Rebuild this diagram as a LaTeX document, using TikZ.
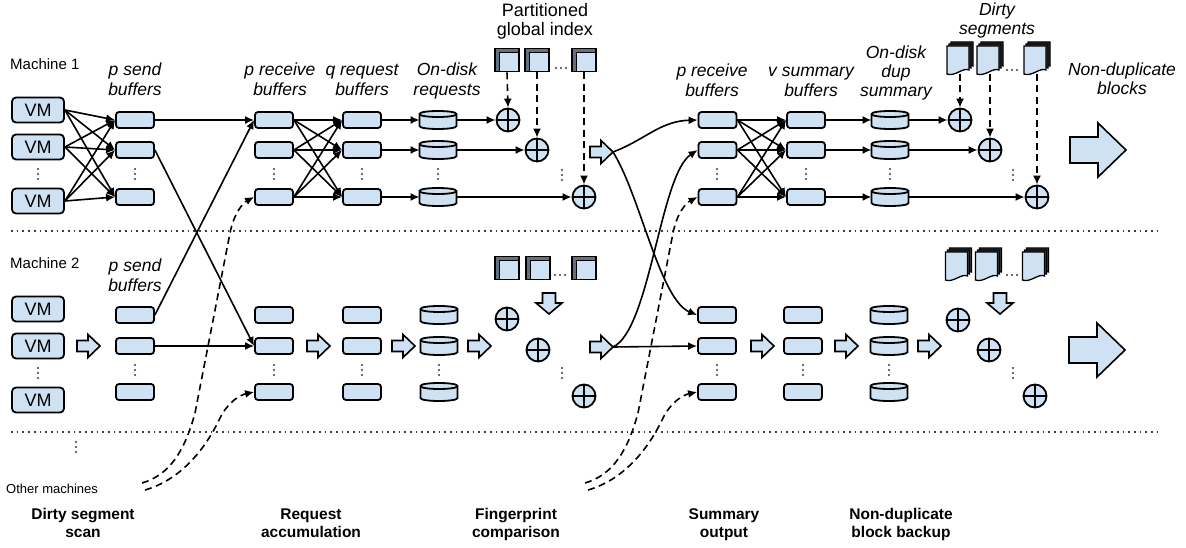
\documentclass[tikz,border=0pt]{standalone}
\usepackage{fontspec}
\setmainfont{Liberation Sans}
\usetikzlibrary{arrows.meta,calc}
\definecolor{lb}{RGB}{207,226,243}
\definecolor{pgray}{RGB}{100,112,124}
\definecolor{dgray}{RGB}{60,66,72}
\definecolor{dotc}{RGB}{60,60,60}
\tikzset{
 bline/.style={line width=1.8pt, draw=black},
 vmbox/.style={bline, fill=lb, rounded corners=4pt, minimum width=52pt, minimum height=25pt, inner sep=0pt, font=\fontsize{18}{18}\selectfont},
 bufbox/.style={bline, fill=lb, rounded corners=3pt, minimum width=38pt, minimum height=16pt, inner sep=0pt},
 cylnode/.style={minimum width=37pt, minimum height=18pt, inner sep=0pt, outer sep=0pt},
 oplus/.style={circle, bline, fill=lb, minimum size=23pt, inner sep=0pt, path picture={\draw[line width=1.6pt] (path picture bounding box.north) -- (path picture bounding box.south) (path picture bounding box.west) -- (path picture bounding box.east);}},
 idxpage/.style={bline, fill=pgray, minimum width=24pt, minimum height=23pt, inner sep=0pt, path picture={\fill[lb] ($(path picture bounding box.north west)+(4,4)$) rectangle (path picture bounding box.south east); \draw[line width=0.7pt] ($(path picture bounding box.north west)+(4,4)$) -- ($(path picture bounding box.north east)+(0,4)$) ($(path picture bounding box.north west)+(4,4)$) -- ($(path picture bounding box.south west)+(4,0)$);}},
 docnode/.style={minimum width=26pt, minimum height=32pt, inner sep=0pt, outer sep=0pt},
 conn/.style={line width=1.6pt, -{Latex[length=9pt,width=8pt]}},
 dconn/.style={conn, dash pattern=on 7pt off 4.5pt},
 ital/.style={font=\fontsize{17.5}{20}\selectfont\itshape, inner sep=0pt, anchor=base},
 reglab/.style={font=\fontsize{18}{20}\selectfont, inner sep=0pt, anchor=base},
 stage/.style={font=\fontsize{15.5}{19}\selectfont\bfseries, inner sep=0pt, anchor=base},
 mach/.style={font=\fontsize{15}{18}\selectfont, inner sep=0pt, anchor=base west},
 sepline/.style={line width=1.7pt, dash pattern=on 1.7pt off 4pt, draw=dotc},
 barrow/.style={line width=1.6pt, draw=black, fill=lb, line join=miter},
 rarr/.pic={\draw[barrow] (0,-5.5) -- (11,-5.5) -- (11,-11.5) -- (23,0) -- (11,11.5) -- (11,5.5) -- (0,5.5) -- cycle; \coordinate (-tip) at (23,0);},
 darr/.pic={\draw[barrow] (-6.5,0) -- (6.5,0) -- (6.5,10) -- (13,10) -- (0,21) -- (-13,10) -- (-6.5,10) -- cycle;},
 bigarr/.pic={\draw[barrow] (0,-13) -- (28,-13) -- (28,-27) -- (56,0) -- (28,27) -- (28,13) -- (0,13) -- cycle;},
 vdts/.pic={\fill[dotc] (0,-5) circle[radius=1.1pt] (0,0) circle[radius=1.1pt] (0,5) circle[radius=1.1pt];},
 hdts/.pic={\fill[dotc] (-5,0) circle[radius=1.1pt] (0,0) circle[radius=1.1pt] (5,0) circle[radius=1.1pt];},
}
\newcommand{\mkcyl}[2]{%
 \node[cylnode] (#1) at (#2) {};
 \draw[bline, fill=lb, shift={(#2)}] (-18.5,-6) -- (-18.5,6) .. controls (-18.5,10) and (18.5,10) .. (18.5,6) -- (18.5,-6) .. controls (18.5,-10) and (-18.5,-10) .. (-18.5,-6) -- cycle;
 \draw[bline, shift={(#2)}] (-18.5,-6) .. controls (-18.5,-2) and (18.5,-2) .. (18.5,-6);}
\newcommand{\mkdoc}[2]{%
 \node[docnode] (#1) at (#2) {};
 \begin{scope}[shift={(#2)}]
 \foreach \dd/\cc in {4/dgray,2/dgray,0/lb}{\draw[line width=1.3pt, fill=\cc, shift={(\dd,-\dd)}] (-13,-12) -- (9,-12) -- (9,12) .. controls (3,9) and (-5,19) .. (-13,16) -- cycle;}
 \end{scope}}
\begin{document}
\begin{tikzpicture}[x=1pt,y=-1pt]
\useasboundingbox (0,0) rectangle (1186,548);
\fill[white] (0,0) rectangle (1186,548);
% separators
\coordinate (sa1) at (11,231); \coordinate (sa2) at (1160,231);
\coordinate (sb1) at (11,432); \coordinate (sb2) at (1160,432);
\draw[sepline] (sa1) -- (sa2);
\draw[sepline] (sb1) -- (sb2);
% texts
\node[mach] (lm1) at (10,70) {Machine 1};
\node[mach] (lm2) at (10,269) {Machine 2};
\node[font=\fontsize{13}{15}\selectfont, inner sep=0pt, anchor=base west] (lom) at (6,493) {Other machines};
\node[ital] (h1a) at (135,76) {p send}; \node[ital] (h1b) at (135,96) {buffers};
\node[ital] (h2a) at (280,76) {p receive}; \node[ital] (h2b) at (280,96) {buffers};
\node[ital] (h3a) at (362,76) {q request}; \node[ital] (h3b) at (362,96) {buffers};
\node[ital] (h4a) at (447,76) {On-disk}; \node[ital] (h4b) at (447,96) {requests};
\node[reglab] (h5a) at (545,17) {Partitioned}; \node[reglab] (h5b) at (545,36) {global index};
\node[ital] (h6a) at (712,77) {p receive}; \node[ital] (h6b) at (712,97) {buffers};
\node[ital] (h7a) at (811,77) {v summary}; \node[ital] (h7b) at (811,97) {buffers};
\node[ital] (h8a) at (896,59) {On-disk}; \node[ital] (h8b) at (896,78) {dup}; \node[ital] (h8c) at (896,97) {summary};
\node[ital] (h9a) at (997,16) {Dirty}; \node[ital] (h9b) at (997,35) {segments};
\node[ital] (h10a) at (1122,75.5) {Non-duplicate}; \node[ital] (h10b) at (1122,95) {blocks};
\node[ital] (h11a) at (135,271) {p send}; \node[ital] (h11b) at (135,291) {buffers};
\node[stage] (st1a) at (83,519) {Dirty segment}; \node[stage] (st1b) at (83,537) {scan};
\node[stage] (st2a) at (311,519) {Request}; \node[stage] (st2b) at (311,537) {accumulation};
\node[stage] (st3a) at (516,519) {Fingerprint}; \node[stage] (st3b) at (516,537) {comparison};
\node[stage] (st4a) at (724,519) {Summary}; \node[stage] (st4b) at (724,537) {output};
\node[stage] (st5a) at (901,519) {Non-duplicate}; \node[stage] (st5b) at (901,537) {block backup};
% Machine 1 nodes
\node[vmbox] (m1vm1) at (38,110) {VM}; \node[vmbox] (m1vm2) at (38,147) {VM}; \node[vmbox] (m1vm3) at (38,201) {VM};
\foreach \i/\y in {1/120,2/150,3/197}{
 \node[bufbox] (m1sb\i) at (135,\y) {};
 \node[bufbox] (m1rb\i) at (274,\y) {};
 \node[bufbox] (m1qb\i) at (362,\y) {};
 \node[bufbox] (s1rb\i) at (717.5,\y) {};
 \node[bufbox] (s1sb\i) at (806,\y) {};
}
\mkcyl{m1cy1}{438,120} \mkcyl{m1cy2}{438,150} \mkcyl{m1cy3}{438,197}
\mkcyl{s1cy1}{890,120} \mkcyl{s1cy2}{890,150} \mkcyl{s1cy3}{890,197}
\node[oplus] (m1op1) at (508,120) {}; \node[oplus] (m1op2) at (537,150) {}; \node[oplus] (m1op3) at (584,197) {};
\node[oplus] (s1op1) at (960,120) {}; \node[oplus] (s1op2) at (990,150) {}; \node[oplus] (s1op3) at (1037,197) {};
\node[idxpage] (m1ix1) at (507,60) {}; \node[idxpage] (m1ix2) at (537,60) {}; \node[idxpage] (m1ix3) at (584,60) {};
\mkdoc{s1dc1}{960,58} \mkdoc{s1dc2}{990,58} \mkdoc{s1dc3}{1037,58}
% Machine 2 nodes
\node[vmbox] (m2vm1) at (38,309) {VM}; \node[vmbox] (m2vm2) at (38,346) {VM}; \node[vmbox] (m2vm3) at (38,400) {VM};
\foreach \i/\y in {1/315,2/346,3/392}{
 \node[bufbox] (m2sb\i) at (135,\y) {};
 \node[bufbox] (m2rb\i) at (274,\y) {};
 \node[bufbox] (m2qb\i) at (362,\y) {};
 \node[bufbox] (s2rb\i) at (717,\y) {};
 \node[bufbox] (s2sb\i) at (803,\y) {};
}
\mkcyl{m2cy1}{439,315} \mkcyl{m2cy2}{439,346} \mkcyl{m2cy3}{439,392}
\mkcyl{s2cy1}{889,315} \mkcyl{s2cy2}{889,346} \mkcyl{s2cy3}{889,392}
\node[oplus] (m2op1) at (507,319) {}; \node[oplus] (m2op2) at (538,350) {}; \node[oplus] (m2op3) at (584,396) {};
\node[oplus] (s2op1) at (958,320) {}; \node[oplus] (s2op2) at (989,350) {}; \node[oplus] (s2op3) at (1035,396) {};
\node[idxpage] (m2ix1) at (507,268) {}; \node[idxpage] (m2ix2) at (538,268) {}; \node[idxpage] (m2ix3) at (584,268) {};
\mkdoc{s2dc1}{958.5,264} \mkdoc{s2dc2}{988.5,264} \mkdoc{s2dc3}{1035.5,264}
% block arrows
\pic (fa1) at (590,152) {rarr};
\pic (a21) at (77,346) {rarr}; \pic (a22) at (307,346) {rarr}; \pic (a23) at (392,346) {rarr};
\pic (a24) at (468,346) {rarr}; \pic (fa2) at (590,347) {rarr}; \pic (a26) at (751,346) {rarr};
\pic (a27) at (835,346) {rarr}; \pic (a28) at (918,346) {rarr};
\pic (da1) at (549,293) {darr}; \pic (da2) at (1000,293) {darr};
\pic (ba1) at (1070,150) {bigarr}; \pic (ba2) at (1069,350) {bigarr};
% dots
\foreach \x/\y in {38/174,135/174,274/174,362/174,438/174,562/175,717/174,806/174,890/174,1013/175,
 38/373,135/370,274/370,362/370,439/370,562/373,717/370,803/370,889/370,1013/373,76/447}{\pic at (\x,\y) {vdts};}
\foreach \x/\y in {561/68,1012/70,560/275,1012/275}{\pic at (\x,\y) {hdts};}
% Machine 1 connectors
\foreach \v in {1,2,3}{\foreach \s in {1,2,3}{\draw[conn] (m1vm\v.east) -- (m1sb\s.west);}}
\draw[conn] (m1sb1.east) -- (m1rb1.west);
\draw[conn] (m1sb2.east) -- (m2rb2.west);
\draw[conn] (m2sb1.east) -- (m1rb1.west);
\draw[conn] (m2sb2.east) -- (m2rb2.west);
\foreach \r in {1,2,3}{\foreach \q in {1,2,3}{\draw[conn] (m1rb\r.east) -- (m1qb\q.west); \draw[conn] (s1rb\r.east) -- (s1sb\q.west);}}
\foreach \i in {1,2,3}{
 \draw[conn] (m1qb\i.east) -- (m1cy\i.west);
 \draw[conn] (m1cy\i.east) -- (m1op\i.west);
 \draw[dconn] (m1ix\i.south) -- (m1op\i.north);
 \draw[conn] (s1sb\i.east) -- (s1cy\i.west);
 \draw[conn] (s1cy\i.east) -- (s1op\i.west);
 \draw[dconn] (s1dc\i.south) -- (s1op\i.north);
}
% fingerprint exchange
\draw[conn] (fa1-tip) .. controls (645,140) and (660,121) .. (s1rb1.west);
\draw[conn] (fa1-tip) .. controls (640,195) and (660,300) .. (s2rb1.west);
\draw[conn] (fa2-tip) .. controls (650,330) and (660,175) .. (s1rb2.west);
\draw[conn] (fa2-tip) -- (s2rb2.west);
% other machines
\coordinate (om1) at (142,483); \coordinate (om2) at (145,490);
\coordinate (om3) at (585,483); \coordinate (om4) at (588,490);
\draw[dconn] (om1) .. controls (170,475) and (185,450) .. (195,413) -- (230,233) .. controls (234,213) and (243,203) .. (m1rb3.west);
\draw[dconn] (om2) .. controls (180,480) and (205,450) .. (220,418) .. controls (228,402) and (240,395) .. (m2rb3.west);
\draw[dconn] (om3) .. controls (613,475) and (628,450) .. (638,413) -- (673,233) .. controls (677,213) and (686,203) .. (s1rb3.west);
\draw[dconn] (om4) .. controls (623,480) and (648,450) .. (663,418) .. controls (671,402) and (683,395) .. (s2rb3.west);
\end{tikzpicture}
\end{document}
